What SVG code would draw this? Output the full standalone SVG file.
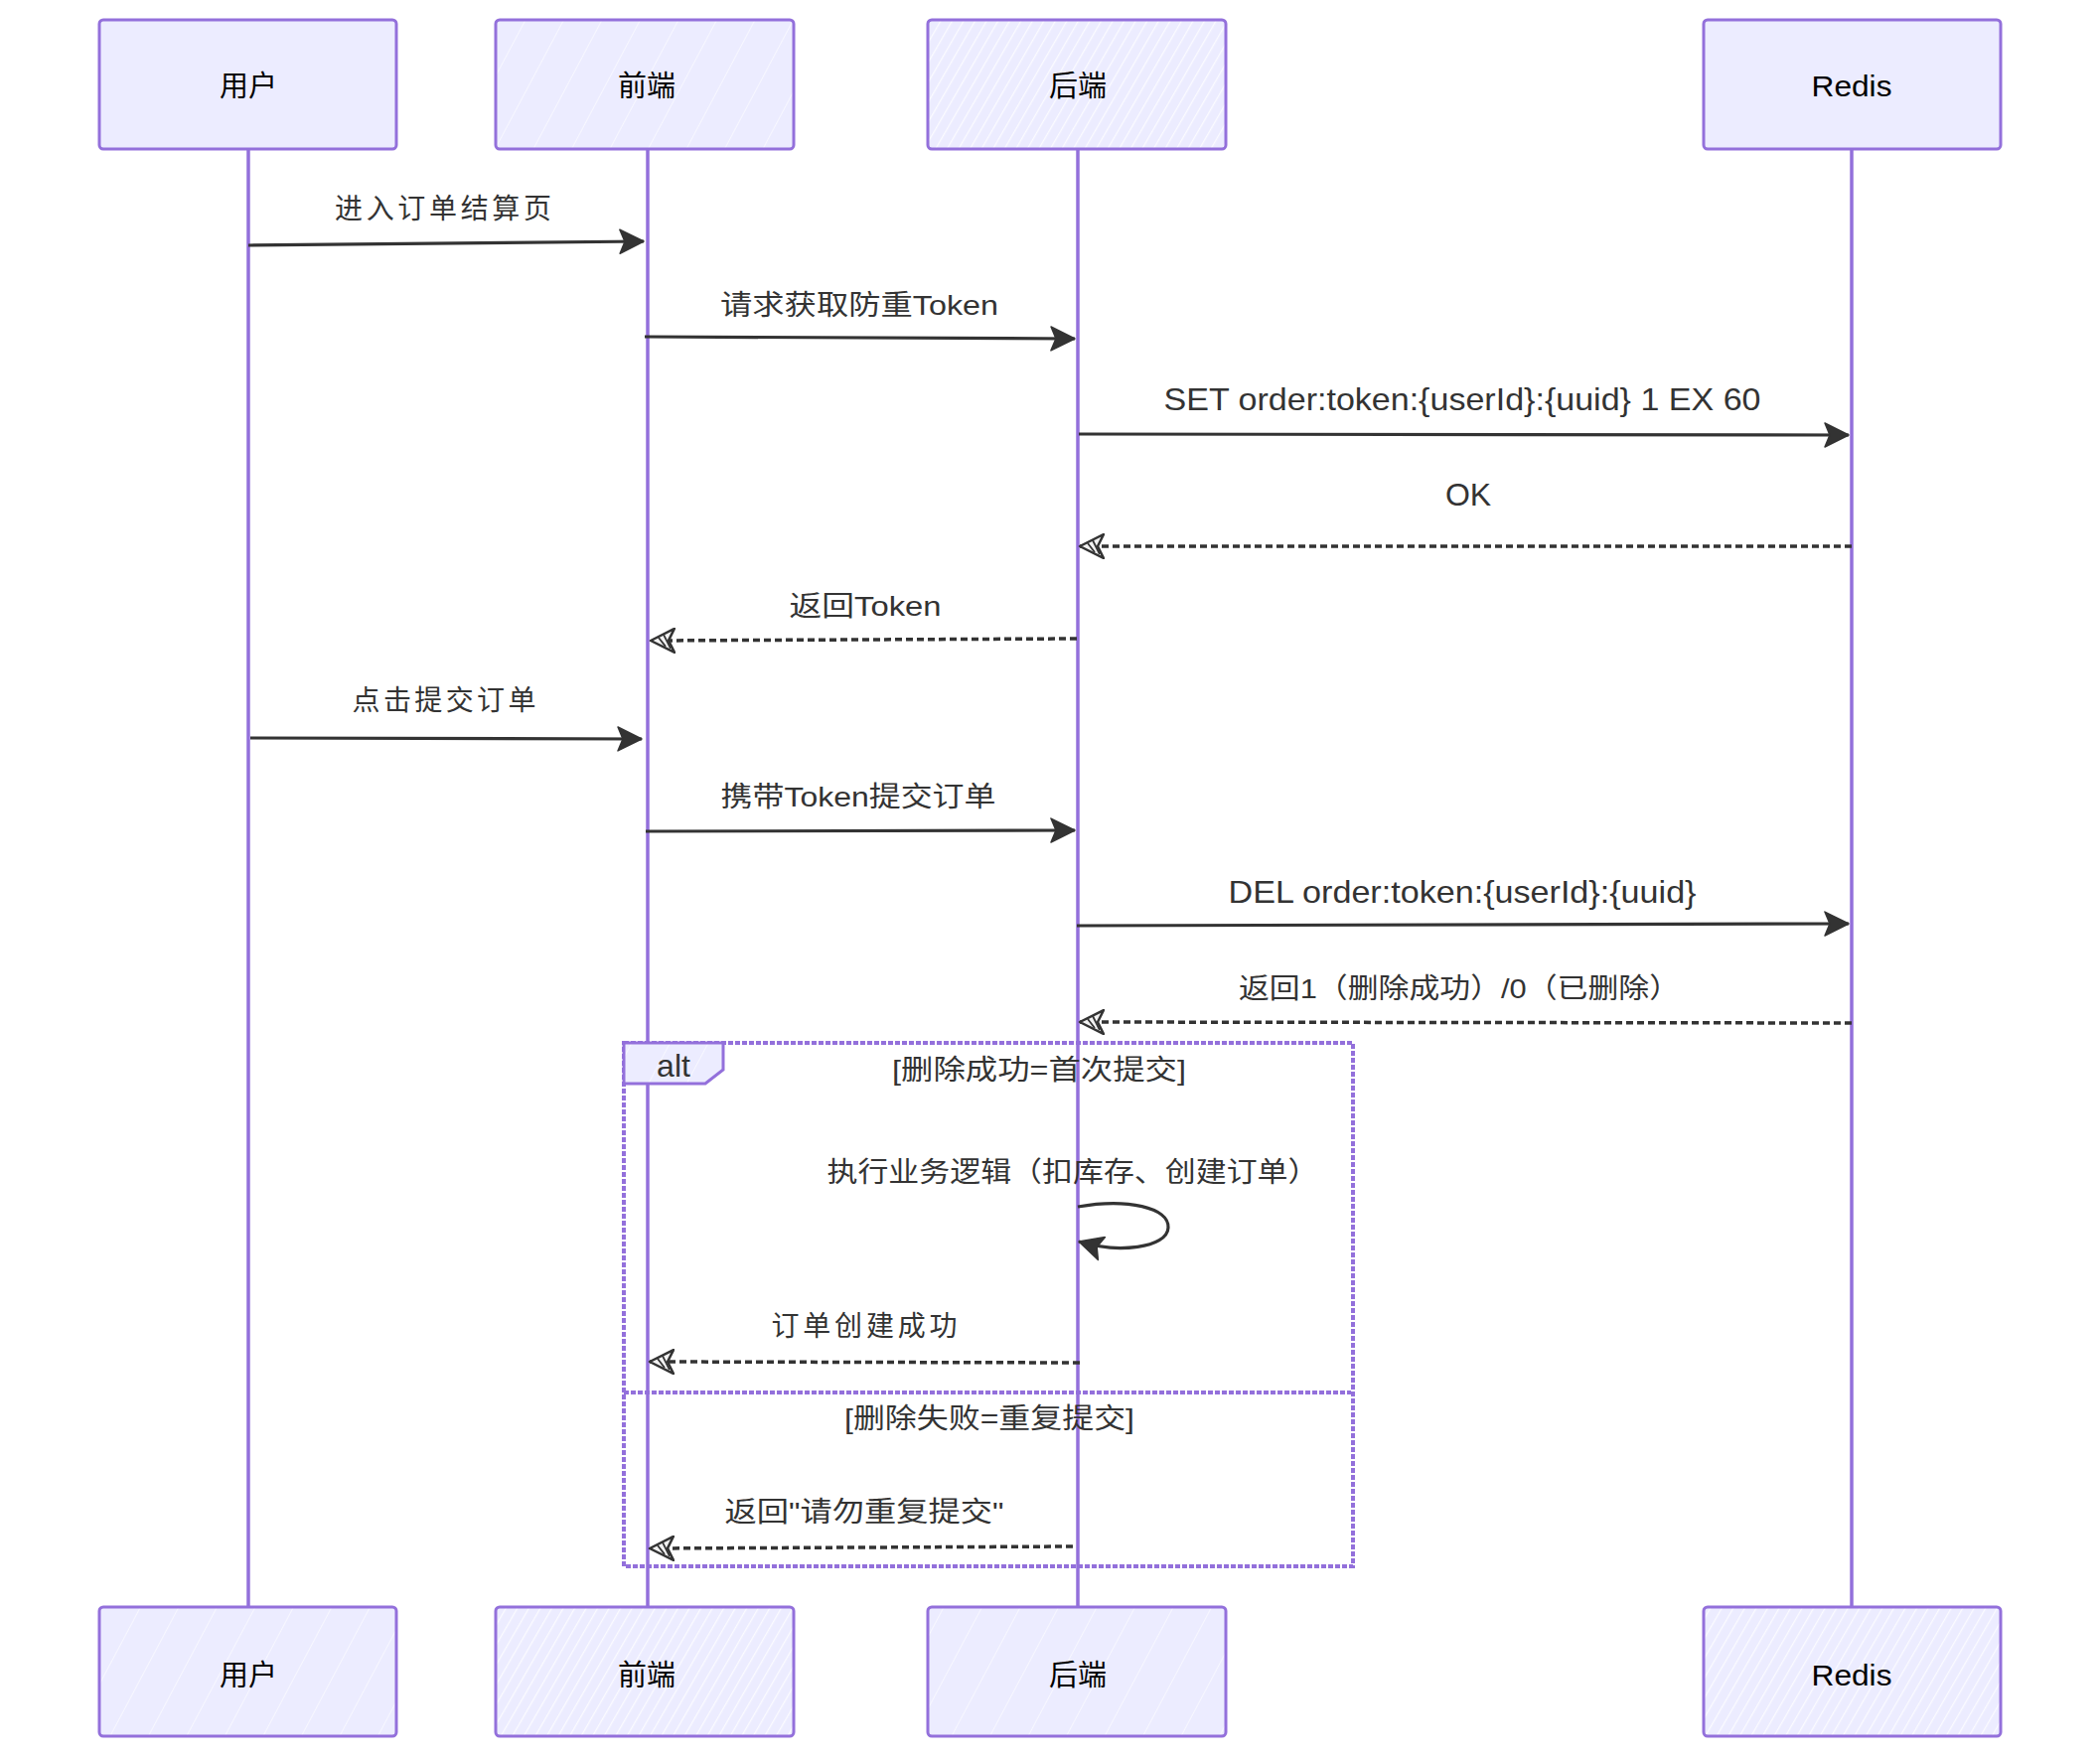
<svg xmlns="http://www.w3.org/2000/svg" width="2114" height="1770" viewBox="0 0 2114 1770">
<style>
.box{stroke:#9370DB;stroke-width:3;}
.life{stroke:#9370DB;stroke-width:3.5;fill:none;}
.actor{font-family:"Liberation Sans","Noto Sans CJK SC",sans-serif;font-size:29px;fill:#000;text-anchor:middle;dominant-baseline:central;}
.msg{font-family:"Liberation Sans","Noto Sans CJK SC",sans-serif;font-size:28px;fill:#333;text-anchor:middle;dominant-baseline:central;}
.lat{font-family:"Liberation Sans","Noto Sans CJK SC",sans-serif;font-size:32px;fill:#333;text-anchor:middle;dominant-baseline:central;}
.solid{stroke:#333;stroke-width:3.2;fill:none;marker-end:url(#fillhead);}
.dash{stroke:#333;stroke-width:3.5;fill:none;stroke-dasharray:7 4;marker-end:url(#openhead);}
.frame{stroke:#9370DB;stroke-width:4;fill:none;stroke-dasharray:5 2;}
</style>
<defs>
<pattern id="dense" width="10" height="10" patternUnits="userSpaceOnUse" patternTransform="rotate(30)">
<rect width="10" height="10" fill="#ECECFF"/>
<line x1="0" y1="0" x2="0" y2="10" stroke="#ffffff" stroke-width="2.5" opacity="0.8"/>
</pattern>
<pattern id="sparse" width="34" height="34" patternUnits="userSpaceOnUse" patternTransform="rotate(28)">
<rect width="34" height="34" fill="#ECECFF"/>
<line x1="0" y1="0" x2="0" y2="34" stroke="#ffffff" stroke-width="1.5" opacity="0.8"/>
</pattern>
<marker id="fillhead" markerWidth="28" markerHeight="26" refX="25" refY="13" orient="auto" markerUnits="userSpaceOnUse">
<path d="M1,1 L25,13 L1,25 L6,13 Z" fill="#333" stroke="#333" stroke-width="1.5" stroke-linejoin="round"/>
</marker>
<marker id="openhead" markerWidth="28" markerHeight="26" refX="25" refY="13" orient="auto" markerUnits="userSpaceOnUse">
<path d="M1,1 L25,13 L1,25 L7,13 Z" fill="#f2f2f2" stroke="#333" stroke-width="2.5" stroke-linejoin="round"/>
<path d="M5,5 L12,19 M10,7 L17,16" stroke="#333" stroke-width="1.8"/>
</marker>
</defs>
<rect width="2114" height="1770" fill="#ffffff"/>

<g id="lifelines">
<line class="life" x1="250" y1="150" x2="250" y2="1618"/>
<line class="life" x1="652" y1="150" x2="652" y2="1618"/>
<line class="life" x1="1085" y1="150" x2="1085" y2="1618"/>
<line class="life" x1="1864" y1="150" x2="1864" y2="1618"/>
</g>

<g id="actor-user-top"><rect class="box" x="100" y="20" width="299" height="130" rx="4" fill="#ECECFF"/><text class="actor" x="250" y="87">用户</text></g>
<g id="actor-fe-top"><rect class="box" x="499" y="20" width="300" height="130" rx="4" fill="url(#sparse)"/><text class="actor" x="651" y="87">前端</text></g>
<g id="actor-be-top"><rect class="box" x="934" y="20" width="300" height="130" rx="4" fill="url(#dense)"/><text class="actor" x="1085" y="87">后端</text></g>
<g id="actor-redis-top"><rect class="box" x="1715" y="20" width="299" height="130" rx="4" fill="#ECECFF"/><text class="actor" x="1864" y="87" font-size="34" textLength="81" lengthAdjust="spacingAndGlyphs">Redis</text></g>

<g id="actor-user-bottom"><rect class="box" x="100" y="1618" width="299" height="130" rx="4" fill="url(#sparse)"/><text class="actor" x="250" y="1687">用户</text></g>
<g id="actor-fe-bottom"><rect class="box" x="499" y="1618" width="300" height="130" rx="4" fill="url(#dense)"/><text class="actor" x="651" y="1687">前端</text></g>
<g id="actor-be-bottom"><rect class="box" x="934" y="1618" width="300" height="130" rx="4" fill="url(#sparse)"/><text class="actor" x="1085" y="1687">后端</text></g>
<g id="actor-redis-bottom"><rect class="box" x="1715" y="1618" width="299" height="130" rx="4" fill="url(#dense)"/><text class="actor" x="1864" y="1687" font-size="34" textLength="81" lengthAdjust="spacingAndGlyphs">Redis</text></g>

<g id="alt-frame">
<rect class="frame" x="628" y="1050" width="734" height="527"/>
<path d="M628,1050 L728,1050 L728,1077 L710,1091 L628,1091 Z" fill="url(#sparse)" stroke="#9370DB" stroke-width="3"/>
<text class="lat" x="678" y="1073">alt</text>
<line class="frame" x1="628" y1="1402" x2="1360" y2="1402" stroke-width="5"/>
<text class="msg" x="1046" y="1077" textLength="296" lengthAdjust="spacingAndGlyphs">[删除成功=首次提交]</text>
<text class="msg" x="996" y="1428" textLength="292" lengthAdjust="spacingAndGlyphs">[删除失败=重复提交]</text>
</g>

<g id="connectors">
<line class="solid" x1="250" y1="247" x2="648" y2="243" stroke-width="4.5"/>
<line class="solid" x1="649" y1="339" x2="1082" y2="341"/>
<line class="solid" x1="1086" y1="437" x2="1861" y2="438"/>
<line class="dash" x1="1864" y1="550" x2="1087" y2="550"/>
<line class="dash" x1="1084" y1="643" x2="655" y2="645" stroke-width="4.5"/>
<line class="solid" x1="252" y1="743" x2="646" y2="744"/>
<line class="solid" x1="650" y1="837" x2="1082" y2="836"/>
<line class="solid" x1="1084" y1="932" x2="1861" y2="930"/>
<line class="dash" x1="1864" y1="1030" x2="1087" y2="1029" stroke-width="4"/>
<path class="solid" d="M1085,1215 C1135,1206 1177,1216 1176,1236 C1175,1257 1125,1262 1086,1250" marker-end="url(#openhead)"/>
<line class="dash" x1="1087" y1="1372" x2="654" y2="1371"/>
<line class="dash" x1="1080" y1="1557" x2="654" y2="1559"/>
</g>

<g id="labels">
<text class="msg" x="446" y="210" textLength="218" lengthAdjust="spacing">进入订单结算页</text>
<text class="msg" x="865" y="307" textLength="280" lengthAdjust="spacingAndGlyphs">请求获取防重Token</text>
<text class="lat" x="1472" y="402" textLength="601" lengthAdjust="spacingAndGlyphs">SET order:token:{userId}:{uuid} 1 EX 60</text>
<text class="lat" x="1478" y="498">OK</text>
<text class="msg" x="871" y="610" textLength="153" lengthAdjust="spacingAndGlyphs">返回Token</text>
<text class="msg" x="447" y="705" textLength="185" lengthAdjust="spacing">点击提交订单</text>
<text class="msg" x="864" y="802" textLength="277" lengthAdjust="spacingAndGlyphs">携带Token提交订单</text>
<text class="lat" x="1472" y="898" textLength="471" lengthAdjust="spacingAndGlyphs">DEL order:token:{userId}:{uuid}</text>
<text class="msg" x="1469" y="995" textLength="444" lengthAdjust="spacingAndGlyphs">返回1（删除成功）/0（已删除）</text>
<text class="msg" x="1080" y="1180" textLength="495" lengthAdjust="spacingAndGlyphs">执行业务逻辑（扣库存、创建订单）</text>
<text class="msg" x="870" y="1335" textLength="187" lengthAdjust="spacing">订单创建成功</text>
<text class="msg" x="870" y="1522" textLength="281" lengthAdjust="spacingAndGlyphs">返回"请勿重复提交"</text>
</g>
</svg>
